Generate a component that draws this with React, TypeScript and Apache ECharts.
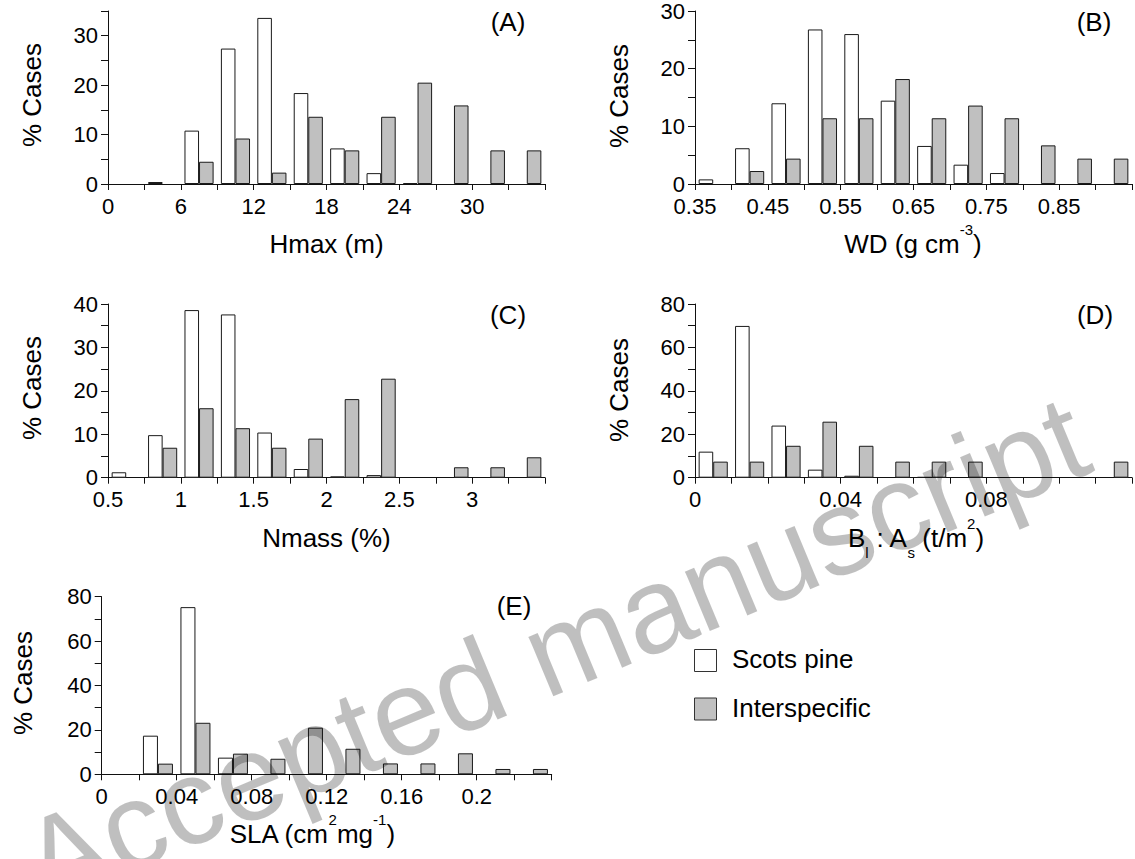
import React, { useEffect, useRef } from 'react';
import * as echarts from 'echarts';

const FONT = "'Liberation Sans', Arial, Helvetica, sans-serif";

// ---- Data (percent of cases per bin; 12 bins per panel) ----
// (A) Hmax (m), bins of 3 m from 0 to 36
const hmaxScots = [0, 0.4, 10.8, 27.4, 33.6, 18.4, 7.2, 2.2, 0.2, 0, 0, 0];
const hmaxInter = [0, 0, 4.5, 9.2, 2.3, 13.6, 6.8, 13.6, 20.5, 15.9, 6.8, 6.8];
// (B) WD (g cm-3), bins of 0.05 from 0.35 to 0.95
const wdScots = [0.8, 6.2, 14.0, 26.8, 26.0, 14.45, 6.6, 3.35, 1.9, 0, 0, 0];
const wdInter = [0, 2.25, 4.4, 11.4, 11.4, 18.2, 11.4, 13.6, 11.4, 6.7, 4.4, 4.4];
// (C) Nmass (%), bins of 0.25 from 0.5 to 3.5
const nmassScots = [1.25, 9.8, 38.6, 37.6, 10.4, 2.0, 0.3, 0.6, 0, 0, 0, 0];
const nmassInter = [0, 6.9, 16.0, 11.4, 6.9, 9.0, 18.1, 22.8, 0, 2.4, 2.4, 4.7];
// (D) Bl:As (t/m2), bins of 0.01 from 0 to 0.12
const blasScots = [12.0, 69.9, 24.0, 3.7, 0.9, 0, 0.3, 0, 0, 0, 0, 0];
const blasInter = [7.4, 7.4, 14.7, 25.8, 14.7, 7.4, 7.4, 7.4, 0, 0, 0, 7.4];
// (E) SLA (cm2 mg-1), bins of 0.02 from 0 to 0.24
const slaScots = [0, 17.4, 75.3, 7.5, 0, 0, 0, 0, 0, 0, 0, 0];
const slaInter = [0, 4.8, 23.2, 9.3, 7.0, 21.0, 11.5, 4.9, 4.9, 9.45, 2.4, 2.4];

// x-axis scales: start, bin width, label every n ticks
const xMins = [0, 0.35, 0.5, 0, 0];
const xBinWidths = [3, 0.05, 0.25, 0.01, 0.02];
const xLabelEvery = [2, 2, 2, 4, 2];
// y-axis scales
const yMaxes = [35, 30, 40, 80, 80];
const yIntervals = [5, 5, 5, 10, 10];
const yLabelEvery = [10, 10, 10, 20, 20];

const panelLetters = ['(A)', '(B)', '(C)', '(D)', '(E)'];
const seriesNames = ['Scots pine', 'Interspecific'];

const scotsData = [hmaxScots, wdScots, nmassScots, blasScots, slaScots];
const interData = [hmaxInter, wdInter, nmassInter, blasInter, slaInter];

// ---- Layout ----
const grids = [
  { left: 108, top: 11, width: 437, height: 173 },
  { left: 695, top: 11, width: 437, height: 173 },
  { left: 108, top: 304, width: 437, height: 173.7 },
  { left: 695, top: 304, width: 437, height: 173.7 },
  { left: 101.7, top: 596.7, width: 450, height: 177.6 },
];
const letterPos = [
  [508, 22], [1094, 22], [508, 315], [1095, 315], [514, 606],
];
const yNamePos = [
  [32, 95], [619, 96], [32, 388], [619, 390], [22.5, 683],
];

const AXIS_COLOR = '#111';
const fmtNum = (v: number) => String(parseFloat(v.toFixed(4)));

function buildOption() {
  const xAxis: any[] = [];
  const yAxis: any[] = [];
  const series: any[] = [];
  const graphic: any[] = [];

  grids.forEach((g, i) => {
    const n = scotsData[i].length;
    const min = xMins[i];
    const bw = xBinWidths[i];
    const max = parseFloat((min + bw * n).toFixed(6));
    xAxis.push({
      type: 'category',
      gridIndex: i,
      data: scotsData[i].map((_, k) => String(k)),
      show: false,
      boundaryGap: true,
    });
    xAxis.push({
      type: 'value',
      gridIndex: i,
      position: 'bottom',
      min,
      max,
      interval: bw,
      axisLine: { show: true, onZero: false, lineStyle: { color: AXIS_COLOR, width: 1 } },
      axisTick: { show: true, inside: false, length: 6, lineStyle: { color: AXIS_COLOR, width: 1 } },
      axisLabel: {
        show: true,
        margin: 11,
        fontSize: 22,
        color: '#000',
        fontFamily: FONT,
        showMinLabel: true,
        showMaxLabel: true,
        formatter: (v: number) => {
          const k = Math.round((v - min) / bw);
          return k % xLabelEvery[i] === 0 && k < n ? fmtNum(v) : '';
        },
      },
      splitLine: { show: false },
    });
    yAxis.push({
      type: 'value',
      gridIndex: i,
      min: 0,
      max: yMaxes[i],
      interval: yIntervals[i],
      axisLine: { show: true, lineStyle: { color: AXIS_COLOR, width: 1 } },
      axisTick: { show: true, inside: false, length: 7, lineStyle: { color: AXIS_COLOR, width: 1 } },
      axisLabel: {
        margin: 10,
        fontSize: 22,
        color: '#000',
        fontFamily: FONT,
        formatter: (v: number) => (Math.round(v) % yLabelEvery[i] === 0 ? String(v) : ''),
      },
      splitLine: { show: false },
    });
    series.push({
      type: 'bar',
      name: seriesNames[0],
      xAxisIndex: 2 * i,
      yAxisIndex: i,
      data: scotsData[i].map((v) => (v > 0 ? v : '-')),
      barGap: '0%',
      barCategoryGap: '20%',
      silent: true,
      itemStyle: { color: '#ffffff', borderColor: '#1a1a1a', borderWidth: 1 },
    });
    series.push({
      type: 'bar',
      name: seriesNames[1],
      xAxisIndex: 2 * i,
      yAxisIndex: i,
      data: interData[i].map((v) => (v > 0 ? v : '-')),
      barGap: '0%',
      barCategoryGap: '20%',
      silent: true,
      itemStyle: { color: '#c0c0c0', borderColor: '#1a1a1a', borderWidth: 1 },
    });

    graphic.push({
      type: 'text',
      x: letterPos[i][0],
      y: letterPos[i][1],
      style: {
        text: panelLetters[i],
        font: `26px ${FONT}`,
        fill: '#000',
        textAlign: 'center',
        textVerticalAlign: 'middle',
      },
    });
    graphic.push({
      type: 'text',
      x: yNamePos[i][0],
      y: yNamePos[i][1],
      rotation: Math.PI / 2,
      style: {
        text: '% Cases',
        font: `26px ${FONT}`,
        fill: '#000',
        textAlign: 'center',
        textVerticalAlign: 'middle',
      },
    });
  });

  const rich = {
    n: { fontSize: 26, fontFamily: FONT, color: '#000', lineHeight: 44 },
    sup: { fontSize: 15, fontFamily: FONT, color: '#000', lineHeight: 24, verticalAlign: 'top' },
    sub: { fontSize: 15, fontFamily: FONT, color: '#000', lineHeight: 16, verticalAlign: 'bottom' },
  };
  const xNames = [
    { text: '{n|Hmax (m)}', x: 326.5, y: 244, align: 'center' },
    { text: '{n|WD (g cm}{sup|-3}{n|)}', x: 913, y: 244, align: 'center' },
    { text: '{n|Nmass (%)}', x: 326.5, y: 537.7, align: 'center' },
    { text: '{n|B}{sub|l}{n| : A}{sub|s}{n| (t/m}{sup|2}{n|)}', x: 916, y: 537.7, align: 'center' },
    { text: '{n|SLA (cm}{sup|2}{n|mg}{sup|-1}{n|)}', x: 312, y: 834.3, align: 'center' },
  ];
  xNames.forEach((t) => {
    graphic.push({
      type: 'text',
      x: t.x,
      y: t.y,
      style: {
        text: t.text,
        rich,
        font: `26px ${FONT}`,
        fill: '#000',
        textAlign: t.align,
        textVerticalAlign: 'middle',
      },
    });
  });

  // Legend
  graphic.push({
    type: 'rect',
    shape: { x: 694.5, y: 649.5, width: 22, height: 22 },
    style: { fill: '#ffffff', stroke: '#333', lineWidth: 1 },
  });
  graphic.push({
    type: 'rect',
    shape: { x: 694.5, y: 698, width: 22, height: 22 },
    style: { fill: '#c0c0c0', stroke: '#333', lineWidth: 1 },
  });
  graphic.push({
    type: 'text',
    x: 732,
    y: 659,
    style: { text: seriesNames[0], font: `26px ${FONT}`, fill: '#000', textAlign: 'left', textVerticalAlign: 'middle' },
  });
  graphic.push({
    type: 'text',
    x: 732,
    y: 708,
    style: { text: seriesNames[1], font: `26px ${FONT}`, fill: '#000', textAlign: 'left', textVerticalAlign: 'middle' },
  });

  // Watermark
  graphic.push({
    type: 'text',
    x: 28.7,
    y: 869,
    rotation: 0.3944,
    z: 100,
    silent: true,
    style: {
      text: 'Accepted manuscript',
      font: `122px ${FONT}`,
      fill: 'rgba(0,0,0,0.25)',
      textAlign: 'left',
      textVerticalAlign: 'middle',
    },
  });

  return {
    animation: false,
    backgroundColor: '#ffffff',
    grid: grids.map((g) => ({ ...g, containLabel: false })),
    xAxis,
    yAxis,
    series,
    graphic: { elements: graphic },
  };
}

export default function App() {
  const ref = useRef<HTMLDivElement>(null);
  useEffect(() => {
    if (!ref.current) return;
    const chart = echarts.init(ref.current, null, { renderer: 'svg' });
    chart.setOption(buildOption() as any);
    return () => chart.dispose();
  }, []);
  return (
    <div
      ref={ref}
      style={{ position: 'fixed', left: 0, top: 0, width: 1135, height: 859, background: '#fff' }}
    />
  );
}
